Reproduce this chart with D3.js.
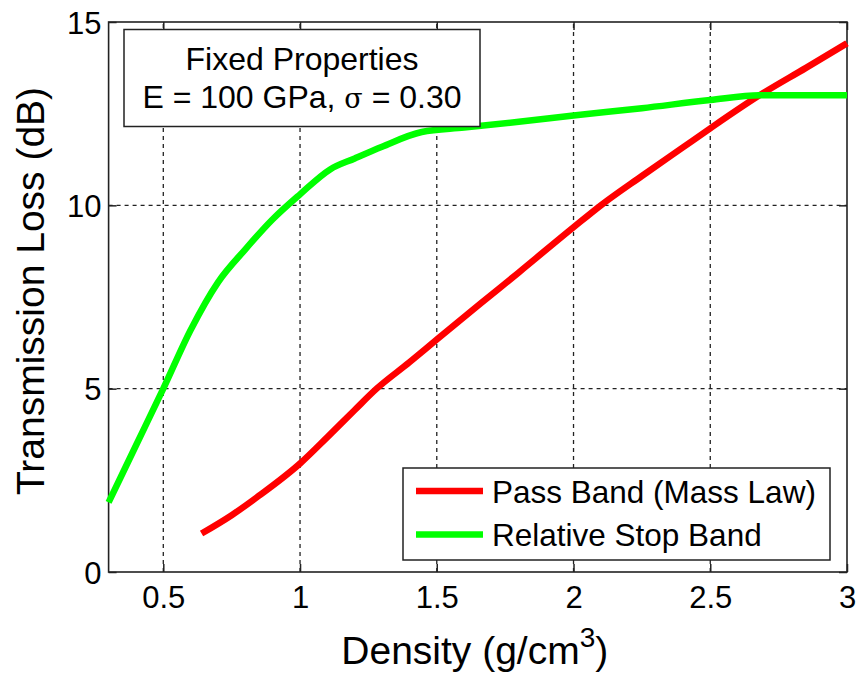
<!DOCTYPE html>
<html>
<head>
<meta charset="utf-8">
<script src="https://cdn.jsdelivr.net/npm/d3@7"></script>
<style>
  html, body { margin: 0; padding: 0; background: #fff; }
  svg { display: block; font-family: "Liberation Sans", Arial, sans-serif; }
</style>
</head>
<body>
<svg id="chart" width="857" height="675"></svg>
<script>
// Density (g/cm^3) vs transmission loss (dB)
const passDensity = [0.64, 0.75, 0.85, 1.0, 1.1, 1.2, 1.28, 1.4, 1.5, 1.66, 1.8, 2.0, 2.1, 2.25, 2.4, 2.5, 2.68, 2.85, 3.0];
const passLoss    = [1.05, 1.55, 2.08, 2.96, 3.68, 4.42, 5.0, 5.72, 6.34, 7.32, 8.17, 9.4, 10.0, 10.8, 11.58, 12.1, 13.0, 13.75, 14.42];

const stopDensity = [0.3, 0.4, 0.5, 0.6, 0.7, 0.8, 0.9, 1.0, 1.11, 1.2, 1.3, 1.445, 1.6, 1.8, 2.0, 2.25, 2.5, 2.68, 2.85, 3.0];
const stopLoss    = [1.9, 3.45, 5.0, 6.6, 7.9, 8.8, 9.62, 10.3, 10.98, 11.28, 11.6, 12.0, 12.12, 12.28, 12.45, 12.65, 12.87, 13.0, 13.0, 13.0];

const xTicks = [0.5, 1, 1.5, 2, 2.5, 3];
const yTicks = [0, 5, 10, 15];
const xDomain = [0.3, 3];
const yDomain = [0, 15];

const seriesNames = ["Pass Band (Mass Law)", "Relative Stop Band"];
const seriesColors = ["#ff0000", "#00ff00"];

const svg = d3.select("#chart");
const W = 857, H = 675;
const m = { left: 108.6, right: 857 - 847, top: 22, bottom: 675 - 572 };

svg.append("rect").attr("width", W).attr("height", H).attr("fill", "#fff");

const x = d3.scaleLinear().domain(xDomain).range([m.left, W - m.right]);
const y = d3.scaleLinear().domain(yDomain).range([H - m.bottom, m.top]);

const x0 = x.range()[0], x1 = x.range()[1];
const y0 = y.range()[0], y1 = y.range()[1];

// dashed grid
const grid = svg.append("g").attr("stroke", "#222").attr("stroke-width", 1.3)
  .attr("stroke-dasharray", "4,4");
grid.selectAll("line.gx").data(xTicks.filter(d => d > xDomain[0] && d < xDomain[1]))
  .join("line").attr("class", "gx")
  .attr("x1", d => x(d)).attr("x2", d => x(d)).attr("y1", y0).attr("y2", y1);
grid.selectAll("line.gy").data(yTicks.filter(d => d > yDomain[0] && d < yDomain[1]))
  .join("line").attr("class", "gy")
  .attr("y1", d => y(d)).attr("y2", d => y(d)).attr("x1", x0).attr("x2", x1);

// axes with inward ticks on all four sides
const tickLen = 8;
const xAxisB = d3.axisBottom(x).tickValues(xTicks).tickSizeInner(-tickLen).tickSizeOuter(0)
  .tickPadding(14).tickFormat(d3.format("~g"));
const xAxisT = d3.axisTop(x).tickValues(xTicks).tickSizeInner(-tickLen).tickSizeOuter(0).tickFormat("");
const yAxisL = d3.axisLeft(y).tickValues(yTicks).tickSizeInner(-tickLen).tickSizeOuter(0)
  .tickPadding(7).tickFormat(d3.format("~g"));
const yAxisR = d3.axisRight(y).tickValues(yTicks).tickSizeInner(-tickLen).tickSizeOuter(0).tickFormat("");

function styleAxis(g) {
  g.select(".domain").remove();
  g.selectAll(".tick line").attr("stroke", "#222").attr("stroke-width", 1.5);
  g.selectAll(".tick text").attr("fill", "#000").style("font-size", "31px")
    .style("font-family", "'Liberation Sans', Arial, sans-serif");
}

svg.append("g").attr("transform", `translate(0,${y0})`).call(xAxisB).call(styleAxis)
  .selectAll(".tick text").attr("dy", "0.71em");
svg.append("g").attr("transform", `translate(0,${y1})`).call(xAxisT).call(styleAxis);
svg.append("g").attr("transform", `translate(${x0},0)`).call(yAxisL).call(styleAxis)
  .selectAll(".tick text").attr("dy", "0.36em");
svg.append("g").attr("transform", `translate(${x1},0)`).call(yAxisR).call(styleAxis);

// plot frame
svg.append("rect").attr("x", x0).attr("y", y1).attr("width", x1 - x0).attr("height", y0 - y1)
  .attr("fill", "none").attr("stroke", "#222").attr("stroke-width", 1.6);

// curves
const line = d3.line().x(d => x(d[0])).y(d => y(d[1])).curve(d3.curveMonotoneX);
const series = [
  d3.zip(passDensity, passLoss),
  d3.zip(stopDensity, stopLoss)
];
svg.append("g").selectAll("path").data(series).join("path")
  .attr("d", line)
  .attr("fill", "none")
  .attr("stroke", (d, i) => seriesColors[i])
  .attr("stroke-width", 6.5)
  .attr("stroke-linejoin", "round");

// properties annotation box
const info = svg.append("g");
info.append("rect").attr("x", 124).attr("y", 29.5).attr("width", 356).attr("height", 97)
  .attr("fill", "#fff").attr("stroke", "#222").attr("stroke-width", 1.5);
info.append("text").attr("x", 302).attr("y", 69.5).attr("text-anchor", "middle")
  .style("font-size", "32px").text("Fixed Properties");
const l2 = info.append("text").attr("x", 302).attr("y", 107.5).attr("text-anchor", "middle")
  .style("font-size", "32px");
l2.append("tspan").text("E = 100 GPa, ");
l2.append("tspan").style("font-family", "'DejaVu Serif', 'Liberation Serif', serif")
  .style("font-size", "27px").text("σ");
l2.append("tspan").text(" = 0.30");

// legend
const lg = svg.append("g");
lg.append("rect").attr("x", 403).attr("y", 468).attr("width", 427).attr("height", 92)
  .attr("fill", "#fff").attr("stroke", "#222").attr("stroke-width", 1.5);
const rows = lg.selectAll("g.row").data(seriesNames).join("g").attr("class", "row")
  .attr("transform", (d, i) => `translate(0,${i * 43.4})`);
rows.append("line").attr("x1", 416).attr("x2", 483).attr("y1", 491).attr("y2", 491)
  .attr("stroke", (d, i) => seriesColors[i]).attr("stroke-width", 6.5);
rows.append("text").attr("x", 492).attr("y", 503).style("font-size", "31.5px").text(d => d);

// axis titles
const xt = svg.append("text").attr("x", (x0 + x1) / 2 - 3).attr("y", 664).attr("text-anchor", "middle")
  .style("font-size", "39px");
xt.append("tspan").text("Density (g/cm");
xt.append("tspan").attr("dy", -17).style("font-size", "28px").text("3");
xt.append("tspan").attr("dy", 17).text(")");

svg.append("text")
  .attr("transform", `translate(44,${(y0 + y1) / 2 - 6}) rotate(-90)`)
  .attr("text-anchor", "middle").style("font-size", "39px")
  .text("Transmission Loss (dB)");
</script>
</body>
</html>
